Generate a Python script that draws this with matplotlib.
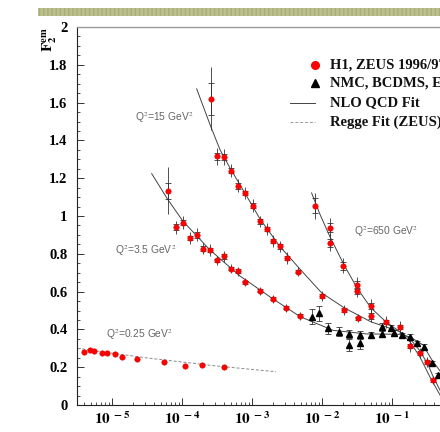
import matplotlib
matplotlib.use("Agg")
import matplotlib.pyplot as plt
from matplotlib.patches import Rectangle
from matplotlib.ticker import MultipleLocator, LogLocator, FixedLocator, NullFormatter

plt.rcParams["font.family"] = ["Liberation Serif", "DejaVu Serif"]
plt.rcParams["mathtext.fontset"] = "stix"

# Q2 = 0.25 GeV2, H1/ZEUS
x_025 = [4.0e-6, 4.8e-6, 5.6e-6, 7.1e-6, 8.5e-6, 1.1e-5, 1.4e-5, 2.3e-5, 5.6e-5, 1.1e-4, 1.9e-4, 4.0e-4]
f2_025 = [0.282, 0.291, 0.288, 0.277, 0.275, 0.270, 0.256, 0.244, 0.229, 0.207, 0.212, 0.200]
regge_x = [3.2e-6, 3.0e-5, 3.0e-4, 2.2e-3]
regge_f2 = [0.300, 0.250, 0.207, 0.176]

# Q2 = 3.5 GeV2
x_35 = [6.4e-5, 8.1e-5, 1.02e-4, 1.32e-4, 1.62e-4, 2.0e-4, 2.5e-4, 3.2e-4, 4.0e-4,
        5.0e-4, 6.4e-4, 8.0e-4, 1.3e-3, 2.0e-3, 3.1e-3, 4.9e-3]
f2_35 = [1.134, 0.941, 0.965, 0.883, 0.901, 0.827, 0.821, 0.765, 0.786,
         0.722, 0.707, 0.650, 0.604, 0.561, 0.514, 0.472]
tot_35 = [0.124, 0.035, 0.035, 0.03, 0.035, 0.03, 0.03, 0.025, 0.03,
          0.025, 0.025, 0.02, 0.02, 0.02, 0.02, 0.02]
stat_35 = [0.042, 0.015, 0.015, 0.012, 0.015, 0.012, 0.012, 0.01, 0.012,
           0.01, 0.01, 0.008, 0.008, 0.008, 0.008, 0.008]
fit_x_35 = [3.69e-5, 6.3e-5, 1.04e-4, 2.5e-4, 6.7e-4, 2.0e-3, 4.9e-3, 0.0144,
            0.0436, 0.130, 0.181, 0.277, 0.369, 0.485]
fit_f2_35 = [1.224, 1.086, 0.971, 0.821, 0.683, 0.561, 0.467, 0.395,
             0.376, 0.374, 0.360, 0.318, 0.240, 0.180]

# Q2 = 15 GeV2
x_15 = [2.57e-4, 3.2e-4, 4.0e-4, 5.0e-4, 6.4e-4, 7.9e-4, 1.02e-3, 1.3e-3, 1.62e-3,
        2.0e-3, 2.5e-3, 3.2e-3, 4.5e-3, 9.9e-3, 0.0208, 0.033]
f2_15 = [1.621, 1.315, 1.312, 1.240, 1.160, 1.122, 1.055, 0.971, 0.932,
         0.868, 0.839, 0.777, 0.706, 0.577, 0.503, 0.459]
tot_15 = [0.168, 0.045, 0.04, 0.035, 0.035, 0.03, 0.035, 0.03, 0.03,
          0.03, 0.03, 0.03, 0.025, 0.025, 0.025, 0.02]
stat_15 = [0.085, 0.02, 0.018, 0.015, 0.015, 0.012, 0.015, 0.012, 0.012,
           0.012, 0.012, 0.012, 0.01, 0.01, 0.01, 0.008]
fit_x_15 = [1.62e-4, 2.57e-4, 3.49e-4, 4.85e-4, 7.9e-4, 1.3e-3, 2.5e-3, 5.1e-3,
            9.9e-3, 0.0208, 0.050, 0.130, 0.181, 0.245, 0.324, 0.389, 0.485]
fit_f2_15 = [1.673, 1.474, 1.351, 1.254, 1.122, 0.985, 0.839, 0.710,
             0.593, 0.514, 0.440, 0.388, 0.350, 0.291, 0.217, 0.148, 0.079]

# Q2 = 650 GeV2
x_650 = [7.9e-3, 0.0130, 0.0130, 0.0200, 0.0316, 0.0316, 0.050, 0.050,
         0.082, 0.130, 0.181, 0.251, 0.316, 0.384]
f2_650 = [1.054, 0.938, 0.858, 0.736, 0.636, 0.604, 0.524, 0.472,
          0.440, 0.413, 0.313, 0.275, 0.228, 0.132]
tot_650 = [0.07, 0.05, 0.045, 0.04, 0.04, 0.035, 0.035, 0.035,
           0.03, 0.03, 0.03, 0.025, 0.025, 0.02]
stat_650 = [0.04, 0.025, 0.02, 0.02, 0.02, 0.015, 0.015, 0.015,
            0.012, 0.012, 0.012, 0.01, 0.01, 0.008]
fit_x_650 = [7.1e-3, 9.4e-3, 0.0130, 0.0206, 0.0316, 0.050, 0.082, 0.130,
             0.181, 0.251, 0.349, 0.485]
fit_f2_650 = [1.122, 1.007, 0.890, 0.742, 0.620, 0.514, 0.440, 0.387,
              0.334, 0.254, 0.148, 0.053]

# fixed-target data (NMC, BCDMS, E665)
x_fixed = [7.1e-3, 9.1e-3, 0.0123, 0.0175, 0.0245, 0.0245, 0.0349, 0.0349, 0.050,
           0.0713, 0.0713, 0.0955, 0.108, 0.138, 0.181, 0.225, 0.286, 0.369, 0.458]
f2_fixed = [0.468, 0.486, 0.406, 0.388, 0.376, 0.318, 0.371, 0.327, 0.371,
            0.376, 0.415, 0.406, 0.380, 0.371, 0.362, 0.327, 0.309, 0.221, 0.159]
err_fixed = [0.04, 0.04, 0.03, 0.025, 0.02, 0.03, 0.02, 0.03, 0.015,
             0.015, 0.02, 0.015, 0.015, 0.012, 0.012, 0.012, 0.012, 0.012, 0.012]

bin_labels = ["Q$^2$=0.25 GeV$^2$", "Q$^2$=3.5 GeV$^2$", "Q$^2$=15 GeV$^2$", "Q$^2$=650 GeV$^2$"]
label_x = [2.47e-5, 3.0e-5, 5.6e-5, 0.0834]
label_y = [0.371, 0.816, 1.52, 0.918]

fig = plt.figure(figsize=(4.4, 4.32), dpi=100)
ax = fig.add_axes([0.175, 0.0625, 0.875, 0.875])

# fits
fit_kw = dict(color="#444444", lw=0.7, zorder=2)
ax.plot(fit_x_35, fit_f2_35, **fit_kw)
ax.plot(fit_x_15, fit_f2_15, **fit_kw)
ax.plot(fit_x_650, fit_f2_650, **fit_kw)
ax.plot(regge_x, regge_f2, color="#888888", lw=0.7, ls=(0, (3, 2)), zorder=2)

# HERA points with total and statistical error bars
err_kw = dict(fmt="none", ecolor="#333333", elinewidth=0.6, zorder=3)
for xs, ys, tot, stat in [(x_35, f2_35, tot_35, stat_35),
                          (x_15, f2_15, tot_15, stat_15),
                          (x_650, f2_650, tot_650, stat_650)]:
    ax.errorbar(xs, ys, yerr=tot, **err_kw)
    ax.errorbar(xs, ys, yerr=stat, capsize=2.5, capthick=0.6, **err_kw)
    ax.plot(xs, ys, "o", color="#ff0000", ms=3.9, mec="#dd0000", mew=0.4, zorder=4)
ax.plot(x_025, f2_025, "o", color="#ff0000", ms=3.9, mec="#dd0000", mew=0.4, zorder=4)

ax.errorbar(x_fixed, f2_fixed, yerr=err_fixed, capsize=2.5, capthick=0.6, **err_kw)
ax.plot(x_fixed, f2_fixed, "^", color="black", ms=3.8, zorder=4)

for txt, lx, ly in zip(bin_labels, label_x, label_y):
    ax.text(lx, ly, txt, ha="center", va="center", fontsize=7.4, color="#666666",
            family=["Liberation Sans", "DejaVu Sans"])

ax.set_xscale("log")
ax.set_xlim(10 ** -5.5, 1.0)
ax.set_ylim(0, 2)

ax.yaxis.set_minor_locator(MultipleLocator(0.05))
ax.set_yticks([0, 0.2, 0.4, 0.6, 0.8, 1, 1.2, 1.4, 1.6, 1.8, 2])
ax.set_yticklabels(["0", "0.2", "0.4", "0.6", "0.8", "1", "1.2", "1.4", "1.6", "1.8", "2"])

ax.xaxis.set_major_locator(FixedLocator([1e-5, 1e-4, 1e-3, 1e-2, 1e-1]))
ax.set_xticklabels([r"$\mathbf{10^{\ -5}}$", r"$\mathbf{10^{\ -4}}$", r"$\mathbf{10^{\ -3}}$",
                    r"$\mathbf{10^{\ -2}}$", r"$\mathbf{10^{\ -1}}$"])
ax.xaxis.set_minor_locator(LogLocator(base=10, subs=range(2, 10)))
ax.xaxis.set_minor_formatter(NullFormatter())

ax.tick_params(which="both", direction="in", top=False, right=False, color="#333333")
ax.tick_params(which="major", length=5, width=0.7)
ax.tick_params(which="minor", length=2.5, width=0.6)
ax.tick_params(axis="y", labelsize=10.5, pad=7)
ax.tick_params(axis="x", labelsize=11, pad=4)
for lab in ax.get_yticklabels():
    lab.set_fontweight("bold")

ax.spines["left"].set_color("#222222")
ax.spines["bottom"].set_color("#222222")
ax.spines["left"].set_linewidth(0.8)
ax.spines["bottom"].set_linewidth(0.8)
ax.spines["top"].set_color("#999999")
ax.spines["top"].set_linewidth(1.0)
ax.spines["right"].set_visible(False)

ax.text(-0.072, 0.968, r"$\mathbf{F_2^{em}}$", transform=ax.transAxes, rotation=90,
        ha="center", va="center", fontsize=11)

# legend
leg_y = [0.899, 0.851, 0.800, 0.749]
leg_txt = ["H1, ZEUS 1996/97", "NMC, BCDMS, E665", "NLO QCD Fit", "Regge Fit (ZEUS)"]
ax.plot([0.618], [leg_y[0]], "o", color="#ff0000", ms=5.5, transform=ax.transAxes, clip_on=False)
ax.plot([0.618], [leg_y[1]], "^", color="black", ms=5.5, transform=ax.transAxes, clip_on=False)
ax.plot([0.553, 0.618], [leg_y[2]] * 2, color="#444444", lw=0.7, transform=ax.transAxes)
ax.plot([0.553, 0.618], [leg_y[3]] * 2, color="#999999", lw=0.7, ls=(0, (3, 2)),
        transform=ax.transAxes)
for ty, t in zip(leg_y, leg_txt):
    ax.text(0.657, ty, t, transform=ax.transAxes, ha="left", va="center",
            fontsize=10.5, fontweight="bold", color="#111111")

# banner strip above the frame
fig.patches.append(Rectangle((0.086, 0.9637), 0.914, 0.0171, transform=fig.transFigure,
                             facecolor="#bcc08e", edgecolor="#a9ad78", hatch="||||",
                             linewidth=0))

fig.savefig("out.png", dpi=100)
